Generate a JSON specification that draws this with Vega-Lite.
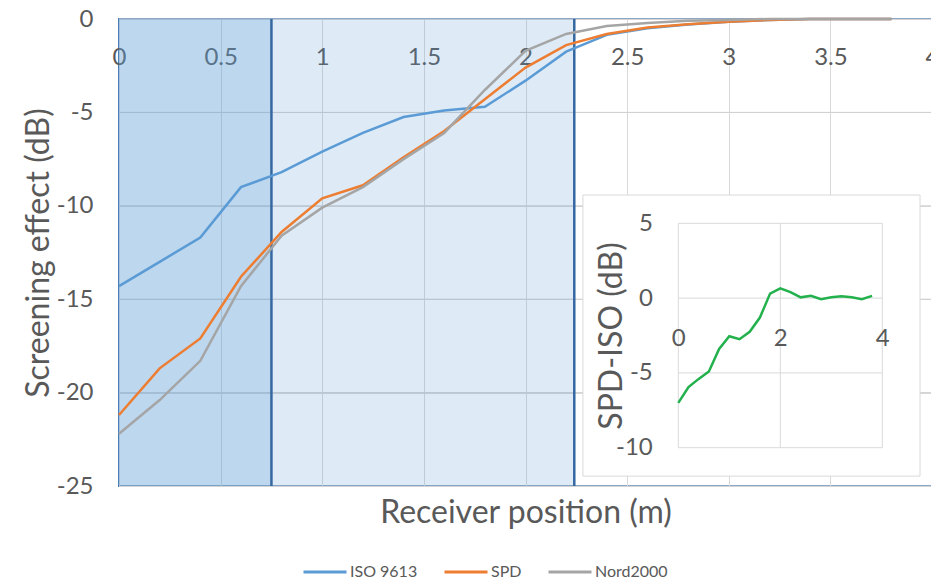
{
  "$schema": "https://vega.github.io/schema/vega-lite/v6.json",
  "width": 813,
  "height": 467,
  "autosize": {"type": "none"},
  "padding": {"left": 119, "top": 19, "right": 0, "bottom": 98},
  "config": {
    "font": "Lato",
    "locale": {"number": {"decimal": ".", "thousands": ",", "grouping": [3], "currency": ["$", ""], "minus": "-"}},
    "view": {"stroke": "#4A7EBB", "strokeWidth": 2},
    "axis": {
      "labelColor": "#595959",
      "titleColor": "#595959",
      "gridColor": "#D9D9D9",
      "gridWidth": 1,
      "labelFontSize": 24,
      "titleFontSize": 32,
      "titleFontWeight": "normal",
      "ticks": false,
      "tickSize": 0,
      "domain": false,
      "labelFlush": false,
      "labelOverlap": false
    },
    "legend": {
      "labelColor": "#595959",
      "labelFontSize": 16
    }
  },
  "datasets": {
    "zones": [
      {"zone": "near", "x0": 0, "x1": 0.75},
      {"zone": "far", "x0": 0.75, "x1": 2.24}
    ],
    "mainGridH": [
      {"v": -25}, {"v": -20}, {"v": -15}, {"v": -10}, {"v": -5}, {"v": 0}
    ],
    "insetGridV": [
      {"x": 0}, {"x": 2}, {"x": 4}
    ],
    "insetGridH": [
      {"v": -10}, {"v": -5}, {"v": 0}, {"v": 5}
    ],
    "main": [
      {"series": "ISO 9613", "x": 0, "value": -14.3},
      {"series": "ISO 9613", "x": 0.2, "value": -13.0},
      {"series": "ISO 9613", "x": 0.4, "value": -11.7},
      {"series": "ISO 9613", "x": 0.6, "value": -9.0},
      {"series": "ISO 9613", "x": 0.8, "value": -8.2},
      {"series": "ISO 9613", "x": 1.0, "value": -7.1},
      {"series": "ISO 9613", "x": 1.2, "value": -6.1},
      {"series": "ISO 9613", "x": 1.4, "value": -5.25},
      {"series": "ISO 9613", "x": 1.6, "value": -4.9},
      {"series": "ISO 9613", "x": 1.8, "value": -4.7},
      {"series": "ISO 9613", "x": 2.0, "value": -3.3},
      {"series": "ISO 9613", "x": 2.2, "value": -1.75},
      {"series": "ISO 9613", "x": 2.4, "value": -0.85},
      {"series": "ISO 9613", "x": 2.6, "value": -0.5},
      {"series": "ISO 9613", "x": 2.8, "value": -0.3},
      {"series": "ISO 9613", "x": 3.0, "value": -0.15},
      {"series": "ISO 9613", "x": 3.2, "value": -0.05},
      {"series": "ISO 9613", "x": 3.4, "value": 0},
      {"series": "ISO 9613", "x": 3.6, "value": 0},
      {"series": "ISO 9613", "x": 3.8, "value": 0},
      {"series": "SPD", "x": 0, "value": -21.2},
      {"series": "SPD", "x": 0.2, "value": -18.7},
      {"series": "SPD", "x": 0.4, "value": -17.1},
      {"series": "SPD", "x": 0.6, "value": -13.8},
      {"series": "SPD", "x": 0.8, "value": -11.4},
      {"series": "SPD", "x": 1.0, "value": -9.6},
      {"series": "SPD", "x": 1.2, "value": -8.9},
      {"series": "SPD", "x": 1.4, "value": -7.4},
      {"series": "SPD", "x": 1.6, "value": -6.0},
      {"series": "SPD", "x": 1.8, "value": -4.3},
      {"series": "SPD", "x": 2.0, "value": -2.6},
      {"series": "SPD", "x": 2.2, "value": -1.4},
      {"series": "SPD", "x": 2.4, "value": -0.8},
      {"series": "SPD", "x": 2.6, "value": -0.45},
      {"series": "SPD", "x": 2.8, "value": -0.28},
      {"series": "SPD", "x": 3.0, "value": -0.15},
      {"series": "SPD", "x": 3.2, "value": -0.05},
      {"series": "SPD", "x": 3.4, "value": 0},
      {"series": "SPD", "x": 3.6, "value": 0},
      {"series": "SPD", "x": 3.8, "value": 0},
      {"series": "Nord2000", "x": 0, "value": -22.2},
      {"series": "Nord2000", "x": 0.2, "value": -20.4},
      {"series": "Nord2000", "x": 0.4, "value": -18.3},
      {"series": "Nord2000", "x": 0.6, "value": -14.3},
      {"series": "Nord2000", "x": 0.8, "value": -11.6},
      {"series": "Nord2000", "x": 1.0, "value": -10.1},
      {"series": "Nord2000", "x": 1.2, "value": -9.0},
      {"series": "Nord2000", "x": 1.4, "value": -7.5},
      {"series": "Nord2000", "x": 1.6, "value": -6.1},
      {"series": "Nord2000", "x": 1.8, "value": -3.8},
      {"series": "Nord2000", "x": 2.0, "value": -1.7},
      {"series": "Nord2000", "x": 2.2, "value": -0.8},
      {"series": "Nord2000", "x": 2.4, "value": -0.38},
      {"series": "Nord2000", "x": 2.6, "value": -0.22},
      {"series": "Nord2000", "x": 2.8, "value": -0.1},
      {"series": "Nord2000", "x": 3.0, "value": -0.05},
      {"series": "Nord2000", "x": 3.2, "value": 0},
      {"series": "Nord2000", "x": 3.4, "value": 0},
      {"series": "Nord2000", "x": 3.6, "value": 0},
      {"series": "Nord2000", "x": 3.8, "value": 0}
    ],
    "insetFrame": [
      {"x0": -1.87, "x1": 4.74, "y0": -11.9, "y1": 6.89}
    ],
    "inset": [
      {"x": 0, "diff": -7.0},
      {"x": 0.2, "diff": -5.95},
      {"x": 0.4, "diff": -5.4},
      {"x": 0.6, "diff": -4.9},
      {"x": 0.8, "diff": -3.4},
      {"x": 1.0, "diff": -2.55},
      {"x": 1.2, "diff": -2.75},
      {"x": 1.4, "diff": -2.25},
      {"x": 1.6, "diff": -1.3},
      {"x": 1.8, "diff": 0.3},
      {"x": 2.0, "diff": 0.65},
      {"x": 2.2, "diff": 0.4},
      {"x": 2.4, "diff": 0.05},
      {"x": 2.6, "diff": 0.15},
      {"x": 2.8, "diff": -0.07},
      {"x": 3.0, "diff": 0.05},
      {"x": 3.2, "diff": 0.12},
      {"x": 3.4, "diff": 0.05},
      {"x": 3.6, "diff": -0.07},
      {"x": 3.8, "diff": 0.15}
    ]
  },
  "layer": [
    {
      "data": {"name": "mainGridH"},
      "mark": {"type": "rule", "color": "#D0D0D0", "strokeWidth": 1},
      "encoding": {
        "y": {"field": "v", "type": "quantitative", "scale": {"domain": [-25, 0], "nice": false, "zero": false}, "axis": null},
        "x": {"datum": 0, "type": "quantitative", "scale": {"domain": [0, 4], "nice": false, "zero": false}, "axis": null},
        "x2": {"datum": 4}
      }
    },
    {
      "data": {"name": "zones"},
      "mark": {"type": "rect", "color": "#5B9BD5"},
      "encoding": {
        "x": {"field": "x0", "type": "quantitative", "scale": {"domain": [0, 4], "nice": false, "zero": false}, "axis": null},
        "x2": {"field": "x1"},
        "opacity": {"field": "zone", "type": "nominal", "scale": {"domain": ["near", "far"], "range": [0.4, 0.2]}, "legend": null}
      }
    },
    {
      "data": {"name": "zones"},
      "mark": {"type": "rule", "color": "#3568A0", "strokeWidth": 2.5},
      "encoding": {
        "x": {"field": "x1", "type": "quantitative", "scale": {"domain": [0, 4], "nice": false, "zero": false}, "axis": null}
      }
    },
    {
      "data": {"name": "main"},
      "mark": {"type": "line", "strokeWidth": 2.5},
      "encoding": {
        "x": {
          "field": "x", "type": "quantitative",
          "scale": {"domain": [0, 4], "nice": false, "zero": false},
          "axis": {"orient": "top", "values": [0, 0.5, 1, 1.5, 2, 2.5, 3, 3.5, 4], "format": "~g", "labelPadding": -38, "labelBaseline": "middle", "grid": true, "title": "Receiver position (m)", "titleBaseline": "alphabetic", "titleY": 503}
        },
        "y": {
          "field": "value", "type": "quantitative",
          "scale": {"domain": [-25, 0], "nice": false, "zero": false},
          "axis": {"orient": "left", "values": [-25, -20, -15, -10, -5, 0], "labelPadding": 26, "grid": true, "title": "Screening effect (dB)", "titlePadding": 1}
        },
        "color": {
          "field": "series", "type": "nominal",
          "scale": {"domain": ["ISO 9613", "SPD", "Nord2000"], "range": ["#5B9BD5", "#ED7D31", "#A5A5A5"]},
          "legend": {"orient": "none", "legendX": 183, "legendY": 530, "direction": "horizontal", "title": null, "symbolType": "stroke", "symbolSize": 1849, "symbolStrokeWidth": 3, "columnPadding": 20, "labelOffset": 2}
        }
      }
    },
    {
      "data": {"name": "insetFrame"},
      "mark": {"type": "rect", "fill": "white", "stroke": "#D9D9D9", "strokeWidth": 1},
      "encoding": {
        "x": {"field": "x0", "type": "quantitative", "scale": {"domain": [0, 4], "range": [559.3, 763.3], "nice": false, "zero": false}, "axis": null},
        "x2": {"field": "x1"},
        "y": {"field": "y0", "type": "quantitative", "scale": {"domain": [-10, 5], "range": [428.7, 204.3], "nice": false, "zero": false}, "axis": null},
        "y2": {"field": "y1"}
      }
    },
    {
      "data": {"name": "insetGridV"},
      "mark": {"type": "rule", "color": "#D9D9D9", "strokeWidth": 1},
      "encoding": {
        "x": {"field": "x", "type": "quantitative", "scale": {"domain": [0, 4], "range": [559.3, 763.3], "nice": false, "zero": false}, "axis": null},
        "y": {"datum": -10, "type": "quantitative", "scale": {"domain": [-10, 5], "range": [428.7, 204.3], "nice": false, "zero": false}, "axis": null},
        "y2": {"datum": 5}
      }
    },
    {
      "data": {"name": "insetGridH"},
      "mark": {"type": "rule", "color": "#D9D9D9", "strokeWidth": 1},
      "encoding": {
        "y": {"field": "v", "type": "quantitative", "scale": {"domain": [-10, 5], "range": [428.7, 204.3], "nice": false, "zero": false}, "axis": null},
        "x": {"datum": 0, "type": "quantitative", "scale": {"domain": [0, 4], "range": [559.3, 763.3], "nice": false, "zero": false}, "axis": null},
        "x2": {"datum": 4}
      }
    },
    {
      "data": {"name": "inset"},
      "mark": {"type": "line", "color": "#22B14C", "strokeWidth": 2.5},
      "encoding": {
        "x": {
          "field": "x", "type": "quantitative",
          "scale": {"domain": [0, 4], "range": [559.3, 763.3], "nice": false, "zero": false},
          "axis": {"orient": "bottom", "offset": -187, "values": [0, 2, 4], "labelPadding": 27, "grid": false, "title": null, "zindex": 1}
        },
        "y": {
          "field": "diff", "type": "quantitative",
          "scale": {"domain": [-10, 5], "range": [428.7, 204.3], "nice": false, "zero": false},
          "axis": {"orient": "left", "offset": -559.3, "values": [-10, -5, 0, 5], "labelPadding": 26, "grid": false, "title": "SPD-ISO (dB)", "titlePadding": -13, "zindex": 1}
        }
      }
    }
  ],
  "resolve": {"scale": {"x": "independent", "y": "independent"}}
}
